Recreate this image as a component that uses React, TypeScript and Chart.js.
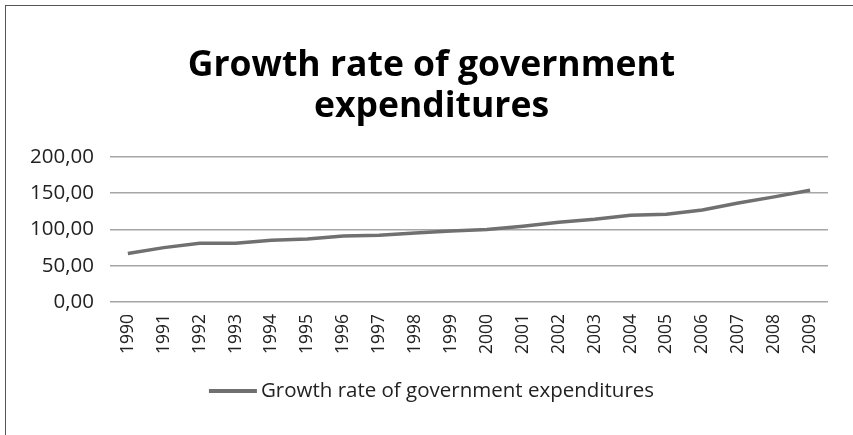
import React, { useEffect, useRef } from "react";
import { Chart, registerables } from "chart.js";

Chart.register(...registerables);

const years = ["1990","1991","1992","1993","1994","1995","1996","1997","1998","1999","2000","2001","2002","2003","2004","2005","2006","2007","2008","2009"];
const growthRate = [67, 75, 81, 81, 85, 87, 91, 92, 95, 98, 100, 104.5, 110, 114, 119.5, 121, 127, 136.5, 145, 154];
const titleLines = ["Growth rate of government", "expenditures"];
const seriesLabel = "Growth rate of government expenditures";

const FONT = "'Open Sans', 'DejaVu Sans', sans-serif";
const LINE_COLOR = "#707070";

const headerAndKey = {
  id: "headerAndKey",
  afterDraw(chart: any) {
    const ctx = chart.ctx as CanvasRenderingContext2D;
    const cx = chart.width / 2 + 5;
    ctx.save();
    // title
    ctx.fillStyle = "#000";
    ctx.font = `bold 35.5px ${FONT}`;
    ctx.textAlign = "center";
    ctx.textBaseline = "middle";
    titleLines.forEach((t, i) => ctx.fillText(t, cx, 66 + i * 41));
    // legend
    ctx.font = `20.5px ${FONT}`;
    const tw = ctx.measureText(seriesLabel).width;
    const sw = 48, gap = 4;
    const x0 = cx - (sw + gap + tw) / 2;
    const ly = 391;
    ctx.strokeStyle = LINE_COLOR;
    ctx.lineWidth = 4;
    ctx.beginPath();
    ctx.moveTo(x0, ly);
    ctx.lineTo(x0 + sw, ly);
    ctx.stroke();
    ctx.fillStyle = "#222";
    ctx.textAlign = "left";
    ctx.fillText(seriesLabel, x0 + sw + gap, ly);
    ctx.restore();
  },
};

export default function App() {
  const ref = useRef<HTMLCanvasElement>(null);
  useEffect(() => {
    if (!ref.current) return;
    const chart = new Chart(ref.current, {
      type: "line",
      data: {
        labels: years,
        datasets: [
          {
            label: seriesLabel,
            data: growthRate,
            borderColor: LINE_COLOR,
            backgroundColor: LINE_COLOR,
            borderWidth: 3.5,
            pointRadius: 0,
            tension: 0,
          },
        ],
      },
      plugins: [headerAndKey],
      options: {
        animation: false,
        responsive: false,
        maintainAspectRatio: false,
        layout: { padding: { left: 14, right: 25, top: 157, bottom: 77 } },
        plugins: {
          title: { display: false },
          legend: { display: false },
          tooltip: { enabled: false },
        },
        scales: {
          x: {
            offset: true,
            grid: { display: false },
            border: { display: false },
            ticks: {
              color: "#222",
              font: { family: FONT, size: 17.5 },
              maxRotation: 90,
              minRotation: 90,
              padding: 4,
            },
          },
          y: {
            min: 0,
            max: 200,
            grid: { color: "#a6a6a6", lineWidth: 1.5, drawTicks: false },
            border: { display: false },
            ticks: {
              stepSize: 50,
              color: "#222",
              font: { family: FONT, size: 20.5 },
              padding: 16,
              callback: (v: any) => Number(v).toFixed(2).replace(".", ","),
            },
          },
        },
      },
    });
    return () => chart.destroy();
  }, []);
  return (
    <div style={{ position: "fixed", left: 0, top: 0, width: 853, height: 435, background: "#fff", overflow: "hidden" }}>
      <canvas ref={ref} width={853} height={435} style={{ position: "absolute", left: 0, top: 0 }} />
      <div style={{ position: "absolute", left: 5, top: 5, width: 900, height: 500, border: "1.5px solid #555", pointerEvents: "none" }} />
    </div>
  );
}
